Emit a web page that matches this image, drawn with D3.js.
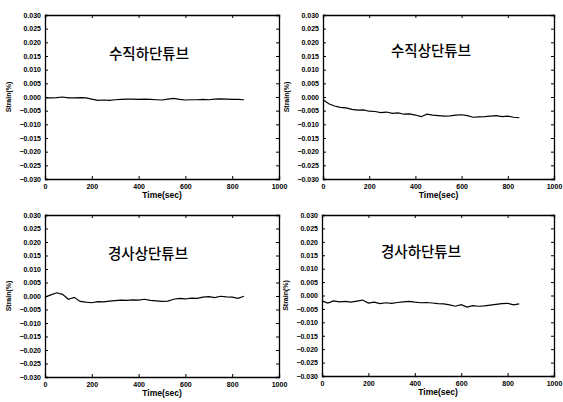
<!DOCTYPE html>
<html><head><meta charset="utf-8">
<script src="https://cdn.jsdelivr.net/npm/d3@7"></script>
<style>body{margin:0;background:#fff}svg{display:block}</style>
</head><body>
<script>
const time = [0,25,50,75,100,125,150,175,200,225,250,275,300,325,350,375,400,425,450,475,500,525,550,575,600,625,650,675,700,725,750,775,800,825,850];
const vertLower = [-0.0003,-0.0003,-0.0002,0.0000,-0.0003,-0.0003,-0.0002,-0.0003,-0.0008,-0.0012,-0.0011,-0.0012,-0.0010,-0.0009,-0.0008,-0.0008,-0.0009,-0.0008,-0.0009,-0.0010,-0.0011,-0.0008,-0.0005,-0.0009,-0.0011,-0.0010,-0.0010,-0.0009,-0.0010,-0.0008,-0.0007,-0.0008,-0.0009,-0.0009,-0.0010];
const vertUpper = [-0.0010,-0.0025,-0.0033,-0.0038,-0.0040,-0.0045,-0.0048,-0.0047,-0.0052,-0.0053,-0.0057,-0.0055,-0.0060,-0.0058,-0.0063,-0.0062,-0.0066,-0.0072,-0.0063,-0.0066,-0.0068,-0.0070,-0.0069,-0.0066,-0.0065,-0.0068,-0.0074,-0.0073,-0.0072,-0.0070,-0.0068,-0.0072,-0.0070,-0.0074,-0.0076];
const slopeUpper = [-0.0004,0.0004,0.0012,0.0006,-0.0012,-0.0005,-0.0020,-0.0023,-0.0025,-0.0021,-0.0022,-0.0019,-0.0017,-0.0015,-0.0016,-0.0014,-0.0015,-0.0012,-0.0016,-0.0018,-0.0020,-0.0019,-0.0012,-0.0009,-0.0011,-0.0008,-0.0009,-0.0004,-0.0002,-0.0006,-0.0001,-0.0003,-0.0004,-0.0009,-0.0001];
const slopeLower = [-0.0020,-0.0028,-0.0020,-0.0024,-0.0022,-0.0025,-0.0021,-0.0017,-0.0028,-0.0025,-0.0030,-0.0027,-0.0029,-0.0026,-0.0024,-0.0022,-0.0025,-0.0027,-0.0026,-0.0028,-0.0030,-0.0031,-0.0035,-0.0040,-0.0034,-0.0043,-0.0038,-0.0040,-0.0039,-0.0036,-0.0033,-0.0030,-0.0029,-0.0035,-0.0031];
const titles = ["수직하단튜브","수직상단튜브","경사상단튜브","경사하단튜브"];
const yTicks = [0.030,0.025,0.020,0.015,0.010,0.005,0.000,-0.005,-0.010,-0.015,-0.020,-0.025,-0.030];
const xTicks = [0,200,400,600,800,1000];
const xLabel = "Time(sec)";
const yLabel = "Strain(%)";

const series = [vertLower, vertUpper, slopeUpper, slopeLower];
const frames = [
  {x0:45,x1:279,y0:15,y1:179},
  {x0:323,x1:554,y0:15,y1:179},
  {x0:45,x1:279,y0:215,y1:377},
  {x0:322,x1:554,y0:215,y1:376}
];
const titlePos = [[149,55],[431,52],[148,255],[421,253]];

const svg = d3.select("body").append("svg").attr("width",563).attr("height",402);
const font = "Arial, 'Liberation Sans', sans-serif";

frames.forEach((f,i)=>{
  const x = d3.scaleLinear().domain([0,1000]).range([f.x0,f.x1]);
  const y = d3.scaleLinear().domain([-0.030,0.030]).range([f.y1,f.y0]);
  const g = svg.append("g");
  const fmt = d=> (d===0?"0.000":d3.format(".3f")(d));
  const ax = [
    g.append("g").attr("transform",`translate(${f.x0},0)`).call(d3.axisLeft(y).tickValues(yTicks).tickSize(-3).tickPadding(4).tickFormat(fmt)),
    g.append("g").attr("transform",`translate(0,${f.y1})`).call(d3.axisBottom(x).tickValues(xTicks).tickSize(-3).tickPadding(5).tickFormat(d3.format("d"))),
    g.append("g").attr("transform",`translate(${f.x1},0)`).call(d3.axisRight(y).tickValues(yTicks).tickSize(-3).tickFormat("")),
    g.append("g").attr("transform",`translate(0,${f.y0})`).call(d3.axisTop(x).tickValues(xTicks).tickSize(-3).tickFormat(""))
  ];
  ax.forEach(a=>{
    a.selectAll("path").attr("stroke","#000").attr("stroke-width",1.3);
    a.selectAll("line").attr("stroke","#000").attr("stroke-width",1);
    a.selectAll("text").attr("font-family",font).attr("font-size",7).attr("font-weight","bold").attr("fill","#000");
  });
  g.append("text").attr("x",(f.x0+f.x1)/2).attr("y",f.y1+19).attr("text-anchor","middle")
    .attr("font-family",font).attr("font-size",8.5).attr("font-weight","bold").text(xLabel);
  g.append("text").attr("transform",`translate(${f.x0-34},${(f.y0+f.y1)/2}) rotate(-90)`).attr("text-anchor","middle")
    .attr("font-family",font).attr("font-size",7).attr("font-weight","bold").text(yLabel);
  g.append("text").attr("x",titlePos[i][0]).attr("y",titlePos[i][1]).attr("text-anchor","middle").attr("dominant-baseline","middle")
    .attr("font-family","'Noto Sans CJK KR', sans-serif").attr("font-size",14.5).attr("font-weight","500").text(titles[i]);
  const line = d3.line().x((d,j)=>x(time[j])).y(d=>y(d));
  g.append("path").datum(series[i]).attr("d",line).attr("fill","none").attr("stroke","#000").attr("stroke-width",1.2);
});
</script>
</body></html>
